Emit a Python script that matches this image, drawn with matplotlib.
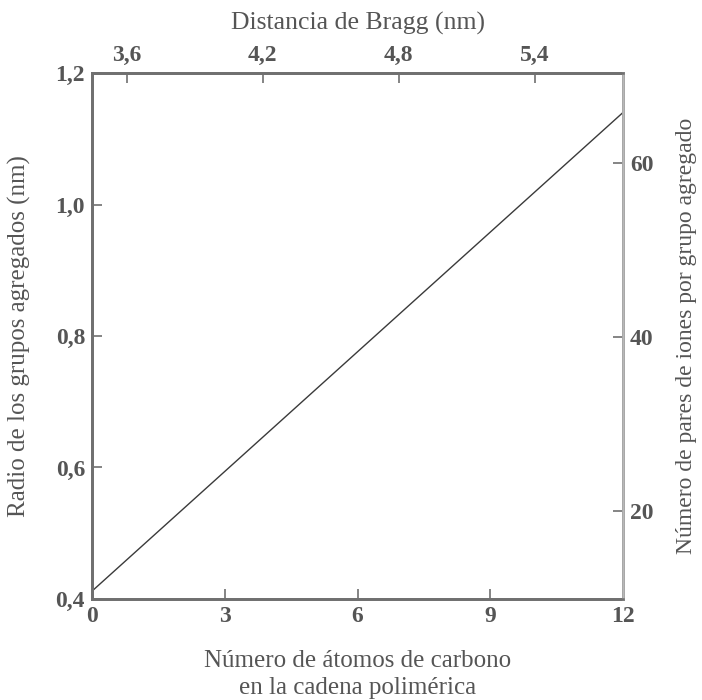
import matplotlib
matplotlib.use("Agg")
import matplotlib.pyplot as plt

# Datos
n_carbonos = [0, 12]
radio_nm = [0.412, 1.14]

x_ticks = [0, 3, 6, 9, 12]
y_ticks = [0.4, 0.6, 0.8, 1.0, 1.2]
bragg_ticks = [3.6, 4.2, 4.8, 5.4]
pares_ticks = [20, 40, 60]

texto = "#555555"
borde = "#707070"
plt.rcParams['font.family'] = ['Liberation Serif', 'DejaVu Serif']

fig = plt.figure(figsize=(7.02, 7.00), dpi=100)
ax = fig.add_axes([0.1311, 0.1443, 0.7564, 0.7514])

ax.plot(n_carbonos, radio_nm, color="#3a3a3a", linewidth=1.0)
ax.set_xlim(0, 12)
ax.set_ylim(0.4, 1.2)
ax.set_xticks(x_ticks)
ax.set_xticklabels([str(v) for v in x_ticks])
ax.set_yticks(y_ticks)
ax.set_yticklabels([f"{v:.1f}".replace(".", ",") for v in y_ticks])

# Eje superior: distancia de Bragg
ax_top = ax.twiny()
ax_top.set_xlim(3.447, 5.79)
ax_top.set_xticks(bragg_ticks)
ax_top.set_xticklabels([f"{v:.1f}".replace(".", ",") for v in bragg_ticks])
ax_top.set_xlabel("Distancia de Bragg (nm)", color=texto, fontsize=18.5)
ax_top.xaxis.set_label_coords(0.5, (599 - 30) / 526)

# Eje derecho: pares de iones
ax_right = ax.twinx()
ax_right.set_ylim(9.9, 70.4)
ax_right.set_yticks(pares_ticks)
ax_right.set_yticklabels([str(v) for v in pares_ticks])
ax_right.set_ylabel("Número de pares de iones por grupo agregado", color=texto,
                    fontsize=17)
ax_right.yaxis.set_label_coords((676 - 92) / 531, 0.5)

for a in (ax, ax_top, ax_right):
    for s in a.spines.values():
        s.set_color(borde)
        s.set_linewidth(1.8)
    a.tick_params(direction="in", length=7, width=1.2, color=borde,
                  labelcolor=texto, labelsize=17, pad=5)
    for lab in a.get_xticklabels() + a.get_yticklabels():
        lab.set_fontweight("bold")
ax_right.spines["right"].set_color("#b8b8b8")

ax.set_xlabel("Número de átomos de carbono\nen la cadena polimérica", color=texto,
              fontsize=18, linespacing=1.3)
ax.xaxis.set_label_coords(0.5, (599 - 650) / 526)
ax.set_ylabel("Radio de los grupos agregados (nm)", color=texto, fontsize=18)
ax.yaxis.set_label_coords((31 - 92) / 531, 0.5)

fig.savefig("out.png", dpi=100)
